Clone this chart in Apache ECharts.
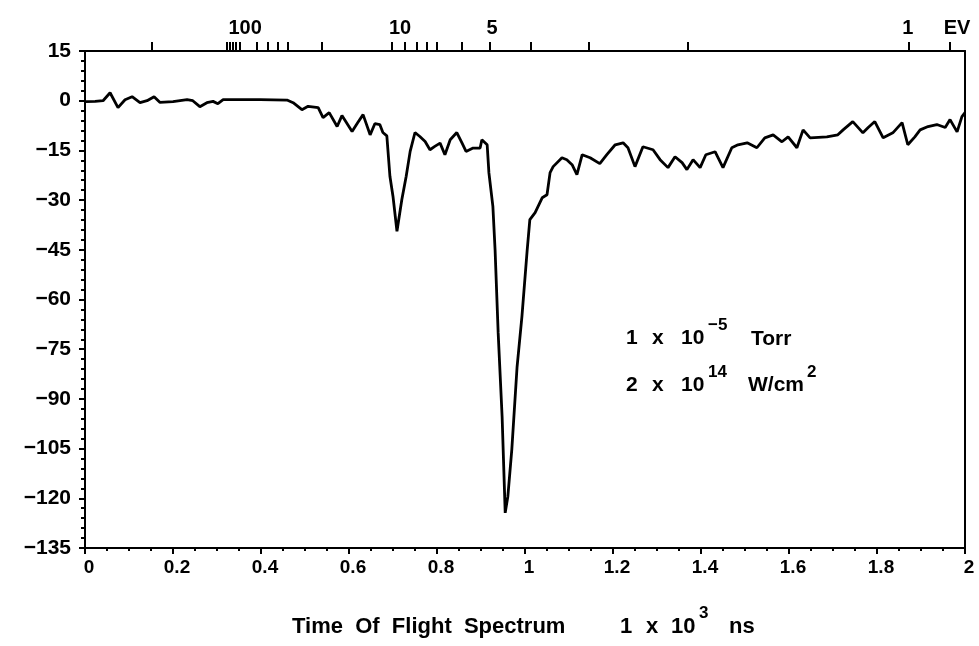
<!DOCTYPE html>
<html><head><meta charset="utf-8">
<script src="https://cdn.jsdelivr.net/npm/echarts@6/dist/echarts.min.js"></script>
<style>html,body{margin:0;padding:0;background:#fff}#c{width:979px;height:646px}</style>
</head><body><div id="c"></div>
<script>
// time of flight (units of 1e3 ns)
const timeValues = [0,0.023,0.041,0.057,0.075,0.091,0.107,0.125,0.141,0.157,
0.170,0.200,0.232,0.245,0.261,0.277,0.291,0.302,0.314,0.352,
0.398,0.459,0.473,0.493,0.507,0.530,0.541,0.555,0.573,0.584,
0.607,0.620,0.632,0.648,0.659,0.670,0.677,0.686,0.693,0.700,
0.709,0.720,0.730,0.739,0.750,0.761,0.773,0.784,0.795,0.807,
0.818,0.830,0.845,0.857,0.866,0.882,0.898,0.902,0.914,0.918,
0.927,0.932,0.939,0.948,0.955,0.961,0.970,0.982,0.993,1.005,
1.011,1.023,1.039,1.050,1.057,1.064,1.084,1.095,1.107,1.118,
1.130,1.148,1.170,1.186,1.205,1.223,1.234,1.250,1.268,1.291,
1.307,1.325,1.341,1.357,1.368,1.382,1.398,1.411,1.432,1.450,
1.470,1.484,1.505,1.527,1.545,1.564,1.584,1.598,1.618,1.632,
1.648,1.686,1.711,1.723,1.745,1.768,1.780,1.795,1.814,1.836,
1.857,1.870,1.886,1.898,1.916,1.936,1.955,1.966,1.982,1.993,
2.0];
// signal
const signalValues = [-0.3,-0.2,0,2.4,-2.1,0.3,1.2,-0.6,0,1.2,
-0.5,-0.3,0.3,0,-1.8,-0.6,-0.2,-0.9,0.3,0.3,
0.3,0.2,-0.6,-2.7,-1.7,-2.1,-5.1,-3.6,-7.8,-4.5,
-9.3,-6.6,-4.2,-10.3,-6.9,-7.2,-9.6,-10.6,-22.8,-28.9,
-39.4,-29.9,-22.8,-15.3,-9.6,-10.8,-12.3,-14.8,-13.8,-12.8,
-16.3,-11.8,-9.6,-12.8,-15.3,-14.3,-14.3,-11.8,-13.3,-21.8,
-31.9,-45,-70,-95.4,-124.4,-119.5,-105.3,-80.3,-65.2,-45,
-35.9,-33.8,-29.3,-28.4,-21.7,-19.9,-17.2,-17.8,-19.3,-22.3,
-16.3,-17.2,-19.0,-16.3,-13.3,-12.7,-14.2,-19.9,-13.9,-14.8,
-17.8,-20.2,-16.9,-18.7,-20.8,-17.8,-20.2,-16.3,-15.4,-20.2,
-14.2,-13.3,-12.7,-14.2,-11.2,-10.3,-12.4,-10.9,-14.2,-8.8,
-11.2,-10.9,-10.3,-8.8,-6.3,-9.7,-8.1,-6.3,-11.2,-9.7,
-6.6,-13.3,-10.9,-8.8,-7.8,-7.2,-8.1,-5.7,-9.4,-4.8,
-3.6];
// top energy axis
const energyTickTimes = [0.152,0.323,0.330,0.336,0.343,0.352,0.391,0.416,0.439,0.461,0.539,
0.698,0.727,0.755,0.777,0.800,0.857,0.920,1.014,1.145,1.370,1.873,1.966];
const energyLabelTimes = [0.364,0.716,0.925,1.870,1.982];
const energyLabels = ['100','10','5','1','EV'];
const yMin = -135, yMax = 15, yStep = 15;
const xMin = 0, xMax = 2, xStep = 0.2;

const FONT = '"Liberation Sans", Arial, sans-serif';
const chart = echarts.init(document.getElementById('c'));
const data = timeValues.map((t, i) => [t, signalValues[i]]);

function txt(text, x, y, size) {
  return { type: 'text', style: { text: text, x: x, y: y, fill: '#000',
    fontSize: size, fontWeight: 'bold', fontFamily: FONT,
    textAlign: 'left', textVerticalAlign: 'middle', align: 'left', verticalAlign: 'middle' } };
}

chart.setOption({
  animation: false,
  backgroundColor: '#fff',
  grid: { left: 85, right: 14, top: 51, bottom: 98, show: false },
  xAxis: [{
    type: 'value', min: xMin, max: xMax, interval: xStep, position: 'bottom',
    axisLine: { show: true, onZero: false, lineStyle: { color: '#000', width: 2 } },
    axisTick: { show: true, length: 6, lineStyle: { color: '#000', width: 2 } },
    minorTick: { show: true, splitNumber: 4, length: 3, lineStyle: { color: '#000', width: 2 } },
    axisLabel: { color: '#000', fontSize: 19, fontWeight: 'bold', fontFamily: FONT, margin: 10, padding: [0,0,0,8] },
    splitLine: { show: false }
  }, {
    type: 'value', min: xMin, max: xMax, position: 'top',
    axisLine: { show: true, onZero: false, lineStyle: { color: '#000', width: 2 } },
    axisTick: { show: true, length: 9, customValues: energyTickTimes, lineStyle: { color: '#000', width: 2 } },
    axisLabel: { show: true, customValues: energyLabelTimes, color: '#000', fontSize: 20, fontWeight: 'bold', fontFamily: FONT, margin: 13,
      formatter: function (v) {
        let best = 0, d = 1e9;
        energyLabelTimes.forEach((t, i) => { if (Math.abs(t - v) < d) { d = Math.abs(t - v); best = i; } });
        return energyLabels[best];
      } },
    splitLine: { show: false }
  }],
  yAxis: [{
    type: 'value', min: yMin, max: yMax, interval: yStep,
    axisLine: { show: true, onZero: false, lineStyle: { color: '#000', width: 2 } },
    axisTick: { show: true, length: 6, lineStyle: { color: '#000', width: 2 } },
    minorTick: { show: true, splitNumber: 5, length: 4, lineStyle: { color: '#000', width: 2 } },
    axisLabel: { color: '#000', fontSize: 21, fontWeight: 'bold', fontFamily: FONT, margin: 14,
      formatter: v => (v < 0 ? '\u2212' + Math.abs(v) : String(v)) },
    splitLine: { show: false }
  }, {
    type: 'value', min: yMin, max: yMax, interval: yStep, position: 'right',
    axisLine: { show: true, onZero: false, lineStyle: { color: '#000', width: 2 } },
    axisTick: { show: false }, axisLabel: { show: false }, splitLine: { show: false }
  }],
  series: [{
    type: 'line', xAxisIndex: 0, yAxisIndex: 0, data: data,
    showSymbol: false, symbol: 'none', smooth: false,
    lineStyle: { color: '#000', width: 2.8 }
  }],
  graphic: [
    txt('1', 626, 338, 21), txt('x', 652, 338, 21), txt('10', 681, 338, 21),
    txt('\u22125', 708, 325, 17), txt('Torr', 751, 339, 21),
    txt('2', 626, 385, 21), txt('x', 652, 385, 21), txt('10', 681, 385, 21),
    txt('14', 708, 372, 17), txt('W/cm', 748, 385, 21), txt('2', 807, 372, 17),
    txt('Time  Of  Flight  Spectrum', 292, 627, 22),
    txt('1', 620, 627, 22), txt('x', 646, 627, 22), txt('10', 671, 627, 22),
    txt('3', 699, 613, 17), txt('ns', 729, 627, 22)
  ]
});
</script></body></html>
